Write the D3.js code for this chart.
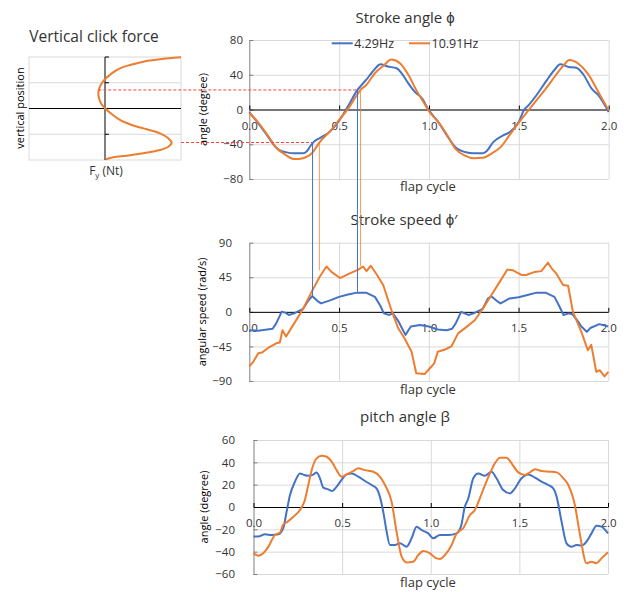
<!DOCTYPE html>
<html>
<head>
<meta charset="utf-8">
<script src="https://cdn.jsdelivr.net/npm/d3@7"></script>
<style>
  body { margin: 0; background: #fff; }
  svg { display: block; font-family: "Open Sans", sans-serif; }
</style>
</head>
<body>
<svg id="chart" width="624" height="592"></svg>
<script>
// ---- data ----
const cycleTicks = [0, 0.5, 1.0, 1.5, 2.0];
const angleTicks = [-80, -40, 0, 40, 80];
const speedTicks = [-90, -45, 0, 45, 90];
const pitchTicks = [-60, -40, -20, 0, 20, 40, 60];
const seriesNames = ["4.29Hz", "10.91Hz"];

// stroke angle (deg) vs flap cycle
const angleLow = [[0,-3],[0.05,-16],[0.1,-30],[0.15,-44],[0.18,-48],[0.2,-49],[0.25,-50.5],[0.3,-50.5],[0.32,-48],
  [0.34,-42],[0.36,-37],[0.4,-32],[0.44,-27],[0.5,-13],[0.55,4],[0.6,22],[0.65,34],[0.7,47],[0.73,52],[0.77,49.5],
  [0.82,47.5],[0.85,41],[0.885,30],[0.92,20.5],[0.96,13],[1.0,-1],[1.05,-14],[1.1,-30],[1.15,-44],[1.2,-49],
  [1.25,-50.5],[1.3,-50.5],[1.32,-48],[1.36,-37],[1.41,-30],[1.45,-26],[1.5,-14],[1.53,0],[1.55,4],[1.6,17],
  [1.65,32],[1.7,46],[1.73,52],[1.775,49],[1.82,48],[1.86,40],[1.905,24],[1.94,17],[2.0,-3]];
const angleHigh = [[0,-4],[0.05,-15],[0.1,-29],[0.15,-44],[0.2,-52],[0.25,-57],[0.3,-56],[0.35,-50],[0.39,-38],
  [0.45,-25],[0.5,-12],[0.55,1],[0.6,17],[0.62,23],[0.65,28],[0.7,42],[0.75,51],[0.79,57.5],[0.84,53],[0.885,40],
  [0.93,22],[0.98,5],[1.0,-2],[1.05,-14],[1.1,-29],[1.15,-46],[1.2,-53],[1.25,-56],[1.3,-55.5],[1.35,-50.5],
  [1.4,-43],[1.45,-29],[1.5,-15],[1.55,-2],[1.6,11],[1.65,24],[1.7,38],[1.75,51],[1.78,57],[1.83,53],[1.885,41],
  [1.94,21],[2.0,-1]];

// stroke speed (rad/s)
const speedLow = [[0,-24],[0.05,-24.5],[0.1,-23],[0.13,-22],[0.15,-15],[0.18,0],[0.2,-1],[0.22,-4],[0.25,-2],
  [0.3,4],[0.33,15],[0.35,20.5],[0.38,14],[0.4,11],[0.45,15],[0.5,19.5],[0.55,22.5],[0.6,25],[0.65,25],[0.7,19.5],
  [0.73,8],[0.75,-2],[0.78,-4],[0.8,-2],[0.83,-12],[0.85,-21],[0.87,-30],[0.9,-19],[0.95,-17],[1.0,-19],
  [1.05,-23],[1.1,-24],[1.13,-22],[1.15,-15],[1.18,0],[1.2,-2],[1.22,-4],[1.25,-2],[1.3,4],[1.33,17.5],[1.35,20],
  [1.38,14],[1.4,11],[1.45,17.5],[1.5,19],[1.55,22],[1.6,25],[1.65,25],[1.7,19.5],[1.73,6],[1.75,-4],[1.78,-2],
  [1.8,-3],[1.83,-12],[1.85,-19],[1.88,-26],[1.9,-21],[1.95,-16],[2.0,-19]];
const speedHigh = [[0,-71],[0.022,-65],[0.05,-54],[0.07,-53],[0.105,-47],[0.15,-41],[0.17,-40],[0.185,-24],
  [0.205,-32],[0.25,-15],[0.3,4],[0.347,26],[0.393,46],[0.43,59],[0.458,52],[0.505,44],[0.551,49],[0.607,55],
  [0.634,59],[0.653,53],[0.677,60],[0.709,49],[0.746,35],[0.792,2],[0.829,-21],[0.866,-35],[0.904,-52],[0.93,-80],
  [0.977,-81],[1.0,-75],[1.03,-67],[1.05,-52],[1.09,-49],[1.126,-45],[1.163,-28],[1.2,-21.5],[1.256,-11],
  [1.302,4.5],[1.349,22],[1.395,39],[1.438,55],[1.469,54],[1.516,48],[1.543,48],[1.59,52],[1.627,53],[1.664,64],
  [1.683,57],[1.71,50],[1.748,35],[1.776,34],[1.803,0],[1.85,-26],[1.886,-50],[1.905,-43],[1.933,-78],[1.952,-76],
  [1.979,-84],[2.0,-78]];

// pitch angle (deg)
const pitchLow = [[0,-26.5],[0.027,-26.5],[0.065,-24.5],[0.102,-25],[0.14,-24.5],[0.168,-19],[0.187,-4],[0.206,10.7],
  [0.234,22.7],[0.262,30],[0.281,29],[0.309,28],[0.337,29],[0.356,31],[0.375,25.7],[0.394,17.3],[0.422,15.8],
  [0.445,14.3],[0.469,18.2],[0.497,24.2],[0.525,29.2],[0.554,30.1],[0.591,27.2],[0.629,23.3],[0.666,19.7],
  [0.694,16.7],[0.713,9.3],[0.732,-4.2],[0.751,-22],[0.77,-34],[0.798,-34],[0.826,-32.5],[0.864,-35.5],[0.892,-28],
  [0.92,-17.6],[0.948,-20.6],[0.986,-23.6],[1.014,-28],[1.052,-25],[1.099,-25],[1.146,-23.6],[1.173,-16],
  [1.19,-1.2],[1.212,7.8],[1.24,25.7],[1.268,30.1],[1.305,28],[1.343,31.6],[1.371,25.7],[1.409,15.2],[1.447,12.2],
  [1.475,16.7],[1.512,25.7],[1.55,29.2],[1.588,26.3],[1.625,22.7],[1.663,19.7],[1.691,16.7],[1.71,9.3],[1.738,-13],
  [1.766,-32.5],[1.794,-35.5],[1.822,-34],[1.851,-34.6],[1.879,-31],[1.907,-23.6],[1.935,-16.7],[1.963,-17.6],
  [2.0,-23.6]];
const pitchHigh = [[0,-41.5],[0.027,-43.6],[0.055,-41.5],[0.084,-35.5],[0.121,-25],[0.15,-22.7],[0.168,-15.5],
  [0.187,-13.7],[0.225,-8.7],[0.262,-2.7],[0.29,6.3],[0.309,19.7],[0.328,33],[0.356,43.6],[0.384,46],[0.413,45],
  [0.441,40.6],[0.469,33],[0.497,27.2],[0.525,29.2],[0.563,32.2],[0.591,34.6],[0.629,33],[0.676,31.6],[0.713,27.2],
  [0.742,19.7],[0.779,4.8],[0.807,-22],[0.836,-44.5],[0.864,-49.6],[0.901,-49],[0.93,-43],[0.958,-39.4],
  [0.996,-41.5],[1.024,-45.4],[1.052,-46.6],[1.08,-43],[1.118,-34],[1.146,-23.6],[1.183,-19],[1.221,-7.2],
  [1.249,-2.7],[1.277,7.8],[1.306,19.7],[1.334,30.1],[1.362,39.1],[1.39,44.2],[1.428,44.2],[1.456,39.1],[1.494,31],
  [1.531,28.7],[1.559,31],[1.588,33.7],[1.625,32.2],[1.673,31.6],[1.71,31],[1.748,25.7],[1.776,19.7],[1.813,1.8],
  [1.842,-25],[1.879,-50.4],[1.907,-49],[1.935,-50.4],[1.963,-46],[2.0,-40.6]];

// vertical click force: [vertical position, Fy] (relative units)
const clickForce = [[0.994,1.0],[0.955,0.724],[0.909,0.504],[0.845,0.329],[0.78,0.197],[0.683,0.088],[0.586,0.013],
  [0.489,-0.043],[0.392,-0.075],[0.295,-0.088],[0.198,-0.079],[0.101,-0.053],[0.004,0],[-0.107,0.088],[-0.223,0.197],
  [-0.32,0.351],[-0.404,0.549],[-0.482,0.724],[-0.579,0.833],[-0.664,0.877],[-0.742,0.833],[-0.806,0.724],
  [-0.87,0.504],[-0.917,0.286],[-0.948,0.109],[-0.986,0.013]];

// guide lines linking the panels
const markLevels = [-38, 22.5];      // stroke angle of the dashed lines
const markLowX = [0.352, 0.602];     // flap cycle, 4.29Hz
const markHighX = [0.39, 0.619];     // flap cycle, 10.91Hz
const markLowSpeed = [20, 26];
const markHighSpeed = [54, 59];

const blue = "#4472C4", orange = "#ED7D31", grid = "#d9d9d9", ink = "#333";
const svg = d3.select("#chart");

function panel(o) {
  const x = d3.scaleLinear().domain([0, 2]).range([o.x0, o.x1]);
  const y = d3.scaleLinear().domain(o.dom).range([o.y1, o.y0]);
  const g = svg.append("g");

  // horizontal grid
  g.append("g").attr("transform", `translate(${o.x0},0)`)
    .call(d3.axisLeft(y).tickValues(o.ticks).tickSize(-(o.x1 - o.x0)).tickFormat(""))
    .call(s => s.select(".domain").remove())
    .selectAll("line").attr("stroke", grid);
  // vertical grid
  g.append("g").attr("transform", `translate(0,${o.y1})`)
    .call(d3.axisBottom(x).tickValues(cycleTicks.slice(1)).tickSize(-(o.y1 - o.y0)).tickFormat(""))
    .call(s => s.select(".domain").remove())
    .selectAll("line").attr("stroke", grid);
  // left axis with inward ticks
  g.append("g").attr("transform", `translate(${o.x0},0)`)
    .call(d3.axisRight(y).tickValues(o.ticks).tickSize(4).tickSizeOuter(0).tickFormat(""))
    .attr("color", "#7f7f7f");
  // y labels
  g.append("g").attr("transform", `translate(${o.labelX},0)`)
    .call(d3.axisLeft(y).tickValues(o.ticks).tickSize(0).tickPadding(0))
    .call(s => s.select(".domain").remove())
    .selectAll("text").attr("fill", ink).attr("font-size", 11.5).attr("font-family", "Open Sans");
  // zero line
  g.append("g").attr("transform", `translate(0,${y(0)})`)
    .call(d3.axisTop(x).tickValues(cycleTicks).tickSize(4).tickSizeOuter(0).tickFormat(""))
    .attr("color", "#000");
  // x labels
  g.append("g").attr("transform", `translate(0,${y(0)})`)
    .call(d3.axisBottom(x).tickValues(cycleTicks).tickSize(0).tickPadding(12).tickFormat(d3.format(".1f")))
    .call(s => s.select(".domain").remove())
    .selectAll("text").attr("fill", ink).attr("font-size", 11.5).attr("font-family", "Open Sans");

  // titles
  g.append("text").attr("x", o.titleX).attr("y", o.titleY).attr("text-anchor", "middle")
    .attr("font-size", 15).attr("fill", ink).text(o.title);
  g.append("text").attr("x", 428).attr("y", o.xTitleY).attr("text-anchor", "middle")
    .attr("font-size", 13).attr("fill", ink).text("flap cycle");
  g.append("text").attr("transform", `translate(${o.yTitleX},${(o.y0 + o.y1) / 2}) rotate(-90)`)
    .attr("text-anchor", "middle").attr("font-size", 11).attr("fill", "#000").text(o.yTitle);

  return { x, y, g };
}

function drawLine(p, data, color, curve) {
  p.g.append("path").datum(data)
    .attr("fill", "none").attr("stroke", color).attr("stroke-width", 2).attr("stroke-linejoin", "round")
    .attr("d", d3.line().x(d => p.x(d[0])).y(d => p.y(d[1])).curve(curve));
}

// ---- left panel: vertical click force ----
const fx = d3.scaleLinear().domain([-1, 1]).range([29, 181]);
const fy = d3.scaleLinear().domain([-1, 1]).range([160, 57]);
const lg = svg.append("g");
lg.append("rect").attr("x", fx(-1)).attr("y", fy(1)).attr("width", fx(1) - fx(-1)).attr("height", fy(-1) - fy(1))
  .attr("fill", "none").attr("stroke", grid);
lg.selectAll(".hg").data([-0.5, 0.5]).join("line")
  .attr("x1", fx(-1)).attr("x2", fx(1)).attr("y1", d => fy(d)).attr("y2", d => fy(d)).attr("stroke", grid);
lg.append("line").attr("x1", fx(-1)).attr("x2", fx(1)).attr("y1", fy(0)).attr("y2", fy(0)).attr("stroke", "#000");
lg.append("line").attr("x1", fx(0)).attr("x2", fx(0)).attr("y1", fy(1)).attr("y2", fy(-1)).attr("stroke", "#000");
lg.selectAll(".vt").data([-0.5, 0.5, 1]).join("line")
  .attr("x1", fx(0)).attr("x2", fx(0) + 4).attr("y1", d => fy(d)).attr("y2", d => fy(d)).attr("stroke", "#000");
lg.append("text").attr("x", 94).attr("y", 41.5).attr("text-anchor", "middle").attr("font-size", 15.5)
  .attr("fill", ink).text("Vertical click force");
lg.append("text").attr("transform", "translate(24,108) rotate(-90)").attr("text-anchor", "middle")
  .attr("font-size", 11).attr("fill", "#000").text("vertical position");
const fyLabel = lg.append("text").attr("x", 106).attr("y", 174.5).attr("text-anchor", "middle")
  .attr("font-size", 12).attr("fill", ink);
fyLabel.append("tspan").text("F");
fyLabel.append("tspan").attr("font-size", 8).attr("dy", 3).text("y");
fyLabel.append("tspan").attr("dy", -3).text(" (Nt)");

// ---- right panels ----
const p1 = panel({ x0: 249.3, x1: 608.7, y0: 40, y1: 179, dom: [-80, 80], ticks: angleTicks, labelX: 243,
  title: "Stroke angle \u03D5", titleX: 405, titleY: 23, xTitleY: 191, yTitle: "angle (degree)", yTitleX: 207 });
const p2 = panel({ x0: 249.3, x1: 608.3, y0: 242.7, y1: 381, dom: [-90, 90], ticks: speedTicks, labelX: 232,
  title: "Stroke speed \u03D5\u2032", titleX: 404, titleY: 225, xTitleY: 394, yTitle: "angular speed (rad/s)", yTitleX: 206 });
const p3 = panel({ x0: 253.5, x1: 608, y0: 440, y1: 574, dom: [-60, 60], ticks: pitchTicks, labelX: 235,
  title: "pitch angle \u03B2", titleX: 405, titleY: 421.5, xTitleY: 587, yTitle: "angle (degree)", yTitleX: 207.5 });

// guide lines
const guides = svg.append("g");
const fMin = d3.least(clickForce, d => d[1]);
const fMax = d3.greatest(clickForce, d => d[1]);
[fMax, fMin].forEach((pt, i) => {
  guides.append("line")
    .attr("x1", fx(pt[1])).attr("x2", p1.x(markLowX[i]))
    .attr("y1", p1.y(markLevels[i])).attr("y2", p1.y(markLevels[i]))
    .attr("stroke", "#ff4040").attr("stroke-width", 1).attr("stroke-dasharray", "3,2");
});
markLowX.forEach((v, i) => {
  guides.append("line").attr("x1", p1.x(v)).attr("x2", p1.x(v))
    .attr("y1", p1.y(markLevels[i])).attr("y2", p2.y(markLowSpeed[i]))
    .attr("stroke", blue).attr("stroke-width", 1);
});
markHighX.forEach((v, i) => {
  guides.append("line").attr("x1", p1.x(v)).attr("x2", p1.x(v))
    .attr("y1", p1.y(markLevels[i])).attr("y2", p2.y(markHighSpeed[i]))
    .attr("stroke", orange).attr("stroke-opacity", 0.75).attr("stroke-width", 1);
});

// curves
lg.append("path").datum(clickForce)
  .attr("fill", "none").attr("stroke", orange).attr("stroke-width", 2)
  .attr("d", d3.line().x(d => fx(d[1])).y(d => fy(d[0])).curve(d3.curveCatmullRom));
drawLine(p1, angleLow, blue, d3.curveMonotoneX);
drawLine(p1, angleHigh, orange, d3.curveMonotoneX);
drawLine(p2, speedLow, blue, d3.curveLinear);
drawLine(p2, speedHigh, orange, d3.curveLinear);
drawLine(p3, pitchLow, blue, d3.curveMonotoneX);
drawLine(p3, pitchHigh, orange, d3.curveMonotoneX);

// legend
const legend = svg.append("g");
[[331.7, blue], [409, orange]].forEach((item, i) => {
  legend.append("line").attr("x1", item[0]).attr("x2", item[0] + 21).attr("y1", 43.3).attr("y2", 43.3)
    .attr("stroke", item[1]).attr("stroke-width", 2);
  legend.append("text").attr("x", item[0] + 22.5).attr("y", 47.5).attr("font-size", 12.5).attr("fill", ink)
    .text(seriesNames[i]);
});
</script>
</body>
</html>
